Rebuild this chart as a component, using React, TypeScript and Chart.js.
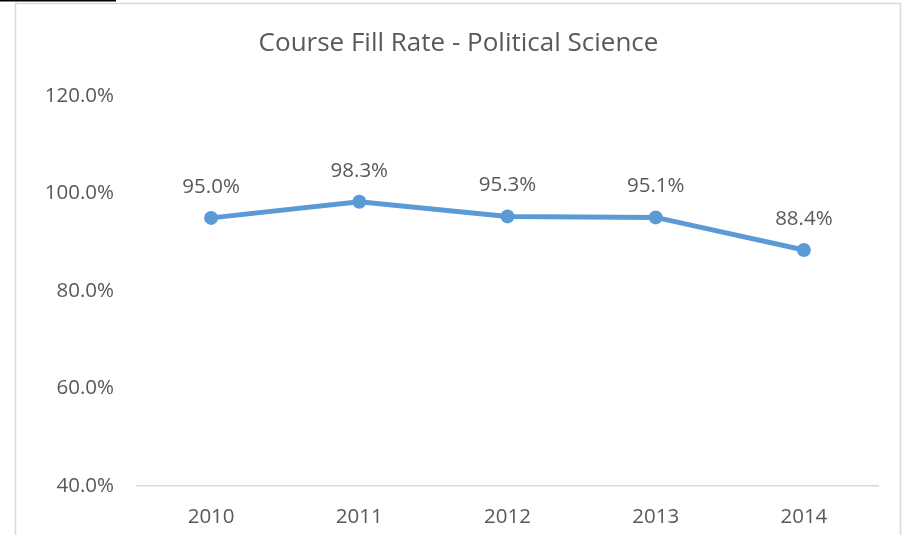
import React, { useEffect, useRef } from "react";
import { Chart, registerables } from "chart.js";

Chart.register(...registerables);

const categories = ["2010", "2011", "2012", "2013", "2014"];
const fillRates = [95.0, 98.3, 95.3, 95.1, 88.4];
const yTicks = [40, 60, 80, 100, 120];
const titleText = "Course Fill Rate - Political Science";

const FONT = "'Open Sans', Lato, sans-serif";
const TEXT = "#595959";
const LINE = "#5B9BD5";
const LABEL_SIZE = 20.5;

const framePlugin = {
  id: "frame",
  beforeDraw(chart: any) {
    const ctx = chart.ctx;
    ctx.save();
    ctx.fillStyle = "#ffffff";
    ctx.fillRect(0, 0, chart.width, chart.height);
    ctx.strokeStyle = "#D9D9D9";
    ctx.lineWidth = 1.5;
    ctx.strokeRect(15.5, 3.5, 885, 600);
    ctx.fillStyle = "#000000";
    ctx.fillRect(0, 0, 116, 1.5);
    ctx.fillStyle = TEXT;
    ctx.font = `26px ${FONT}`;
    ctx.textAlign = "center";
    ctx.textBaseline = "middle";
    ctx.fillText(titleText, 458.5, 44);
    ctx.restore();
  },
};

const labelPlugin = {
  id: "valueLabels",
  afterDatasetsDraw(chart: any) {
    const ctx = chart.ctx;
    const meta = chart.getDatasetMeta(0);
    ctx.save();
    ctx.fillStyle = TEXT;
    ctx.font = `${LABEL_SIZE}px ${FONT}`;
    ctx.textAlign = "center";
    ctx.textBaseline = "middle";
    meta.data.forEach((pt: any, i: number) => {
      ctx.fillText(fillRates[i].toFixed(1) + "%", pt.x, pt.y - 31);
    });
    ctx.restore();
  },
};

export default function App() {
  const ref = useRef<HTMLCanvasElement>(null);
  useEffect(() => {
    if (!ref.current) return;
    const chart = new Chart(ref.current, {
      type: "line",
      data: {
        labels: categories,
        datasets: [
          {
            data: fillRates,
            borderColor: LINE,
            backgroundColor: LINE,
            borderWidth: 5,
            pointRadius: 7,
            pointBorderWidth: 0,
            pointBackgroundColor: LINE,
            tension: 0,
          },
        ],
      },
      options: {
        animation: false,
        responsive: false,
        layout: { padding: { top: 96, right: 25, bottom: 0, left: 0 } },
        plugins: {
          legend: { display: false },
          title: { display: false },
          tooltip: { enabled: false },
        },
        scales: {
          x: {
            type: "category",
            offset: true,
            grid: { display: false, drawTicks: false },
            border: { display: true, color: "#D9D9D9", width: 1.5 },
            ticks: { color: TEXT, font: { family: FONT, size: LABEL_SIZE }, padding: 19 },
            afterFit: (s: any) => {
              s.height = 49;
            },
          },
          y: {
            min: 40,
            max: 120,
            afterBuildTicks: (s: any) => {
              s.ticks = yTicks.map((v) => ({ value: v }));
            },
            grid: { display: false, drawTicks: false },
            border: { display: false },
            ticks: {
              color: TEXT,
              font: { family: FONT, size: LABEL_SIZE },
              padding: 23,
              callback: (v: any) => Number(v).toFixed(1) + "%",
            },
            afterFit: (s: any) => {
              s.width = 137;
            },
          },
        },
      },
      plugins: [framePlugin, labelPlugin],
    });
    return () => chart.destroy();
  }, []);
  return (
    <div style={{ position: "fixed", left: 0, top: 0, width: 903, height: 535 }}>
      <canvas ref={ref} width={903} height={535} />
    </div>
  );
}
